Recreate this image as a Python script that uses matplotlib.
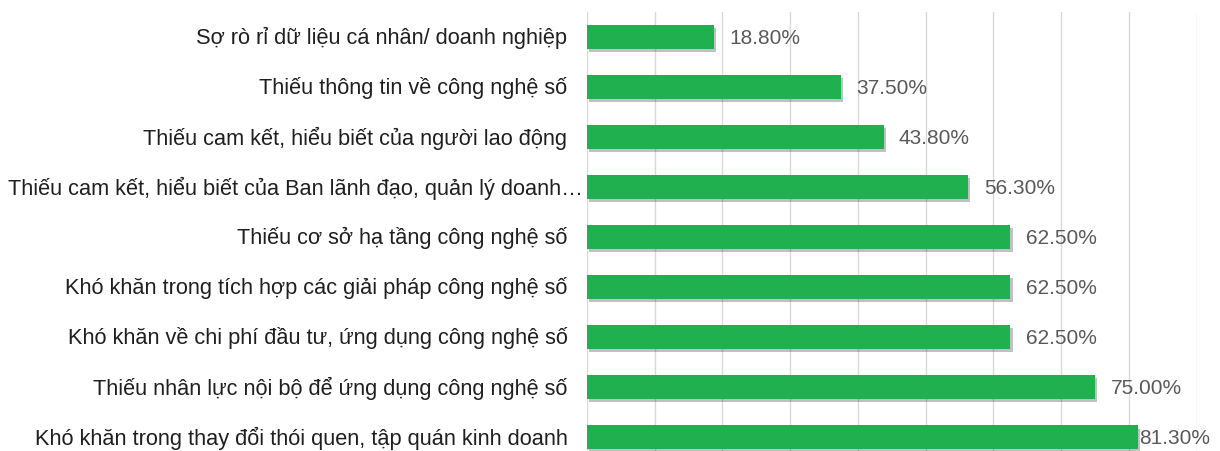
import matplotlib
matplotlib.use("Agg")
import matplotlib.pyplot as plt
import matplotlib.patheffects as pe
import numpy as np

plt.rcParams["font.family"] = ["Liberation Sans", "DejaVu Sans"]

categories = [
    "Sợ rò rỉ dữ liệu cá nhân/ doanh nghiệp",
    "Thiếu thông tin về công nghệ số",
    "Thiếu cam kết, hiểu biết của người lao động",
    "Thiếu cam kết, hiểu biết của Ban lãnh đạo, quản lý doanh…",
    "Thiếu cơ sở hạ tầng công nghệ số",
    "Khó khăn trong tích hợp các giải pháp công nghệ số",
    "Khó khăn về chi phí đầu tư, ứng dụng công nghệ số",
    "Thiếu nhân lực nội bộ để ứng dụng công nghệ số",
    "Khó khăn trong thay đổi thói quen, tập quán kinh doanh",
]
values = [18.8, 37.5, 43.8, 56.3, 62.5, 62.5, 62.5, 75.0, 81.3]

W, H = 1220, 452
fig = plt.figure(figsize=(W / 100, H / 100), dpi=100)
ax = fig.add_axes([0.481, -0.0244, 0.5, 0.9956])

y = np.arange(len(categories))
bars = ax.barh(y, values, height=0.48, color="#21B050", zorder=3)
for b in bars:
    b.set_path_effects([
        pe.SimplePatchShadow(offset=(1.5, -2.5), shadow_rgbFace="#333333", alpha=0.3),
        pe.Normal(),
    ])

for yi, v in zip(y, values):
    off = 1 if v > 80 else 11
    ax.annotate(f"{v:.2f}%", (v, yi), xytext=(off, 0), textcoords="offset points",
                va="center", ha="left", fontsize=15, color="#595959")

ax.set_xlim(0, 90)
ax.set_xticks(np.arange(0, 91, 10))
ax.set_xticklabels([])
ax.tick_params(axis="x", length=0)
ax.set_ylim(len(categories) - 0.5, -0.5)
ax.set_yticks([])
ax.grid(axis="x", color="#D9D9D9", linewidth=1, zorder=0)
for s in ax.spines.values():
    s.set_visible(False)

# category labels, right-aligned next to the axis; too-long ones start at the left edge
labels = []
for yi, cat in zip(y, categories):
    t = ax.annotate(cat, (0, yi), xycoords=("axes fraction", "data"),
                    xytext=(-14, 0), textcoords="offset points",
                    ha="right", va="center", fontsize=15.7, color="#1F1F1F")
    labels.append(t)

fig.canvas.draw()
r = fig.canvas.get_renderer()
for t in labels:
    bb = t.get_window_extent(r)
    if bb.x0 < 8:
        t.set_horizontalalignment("left")
        t.xyann = (-(ax.get_window_extent(r).x0 - 8) * 72 / 100, 0)

fig.savefig("out.png", dpi=100)
